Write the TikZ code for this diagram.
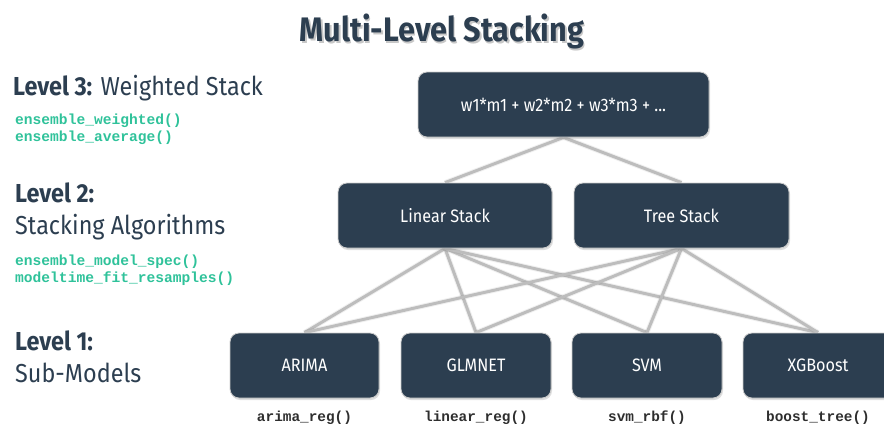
\documentclass[tikz,border=0pt]{standalone}
\usepackage{fontspec}
\setmainfont{Fira Sans}[FakeStretch=0.9]
\newfontfamily\codefont{Liberation Mono}
\usetikzlibrary{shadows,backgrounds}
\definecolor{navy}{HTML}{2C3E50}
\definecolor{codegreen}{HTML}{2FC29A}
\definecolor{linkgrey}{HTML}{BDBDBD}
\definecolor{codegrey}{HTML}{2E2E2E}
\tikzset{
  box/.style={draw=black!20, line width=0.8pt, fill=navy, rounded corners=9pt,
    text=white, font=\fontsize{18}{21}\selectfont, align=center,
    drop shadow={opacity=0.25, shadow xshift=1pt, shadow yshift=-2pt}},
  link/.style={draw=linkgrey, line width=3pt,
    preaction={draw=black, opacity=0.06, line width=5pt}},
  titlefont/.style={font=\bfseries\fontsize{34}{38}\selectfont},
  levelhead/.style={anchor=base west, text=navy, inner sep=0pt, font=\fontsize{26}{29}\selectfont},
  code/.style={anchor=base west, text=codegreen, inner sep=0pt, font=\codefont\bfseries\fontsize{14.6}{16}\selectfont},
  fnlabel/.style={anchor=base, text=codegrey, inner sep=0pt, font=\codefont\bfseries\fontsize{14.4}{16}\selectfont}
}
\begin{document}
\begin{tikzpicture}[x=1pt,y=-1pt]
\useasboundingbox (0,0) rectangle (884,426);

% title with soft shadow
\node[text=black, opacity=0.22, titlefont] at (443.5,33) {Multi-Level Stacking};
\node (title) [text=navy, titlefont] at (442,31) {Multi-Level Stacking};

% level descriptions
\node (l3) [levelhead] at (13,95) {\textbf{Level 3:} Weighted Stack};
\node (l3a) [code] at (15,124) {ensemble\_weighted()};
\node (l3b) [code] at (15,141) {ensemble\_average()};

\node (l2) [levelhead] at (15,202) {\textbf{Level 2:}};
\node (l2t) [levelhead] at (15,234) {Stacking Algorithms};
\node (l2a) [code] at (15,265) {ensemble\_model\_spec()};
\node (l2b) [code] at (15,282) {modeltime\_fit\_resamples()};

\node (l1) [levelhead] at (15,350) {\textbf{Level 1:}};
\node (l1t) [levelhead] at (15,382) {Sub-Models};

% boxes
\node (top) [box, minimum width=291pt, minimum height=65pt] at (563.5,104.5) {w1*m1 + w2*m2 + w3*m3 + ...};
\node (lin) [box, minimum width=214pt, minimum height=65pt] at (445,215.5) {Linear Stack};
\node (tree) [box, minimum width=215pt, minimum height=65pt] at (681.5,215.5) {Tree Stack};

\node (arima) [box, minimum width=149pt, minimum height=65pt] at (304.5,365.5) {ARIMA};
\node (glm) [box, minimum width=150pt, minimum height=65pt] at (476,365.5) {GLMNET};
\node (svm) [box, minimum width=150pt, minimum height=65pt] at (647,365.5) {SVM};
\node (xgb) [box, minimum width=150pt, minimum height=65pt] at (818,365.5) {XGBoost};

% function names under the sub-models
\node (fa) [fnlabel] at (304.5,421) {arima\_reg()};
\node (fg) [fnlabel] at (476,421) {linear\_reg()};
\node (fs) [fnlabel] at (647,421) {svm\_rbf()};
\node (fx) [fnlabel] at (818,421) {boost\_tree()};

% links, kept behind the boxes
\begin{scope}[on background layer]
\foreach \a/\b in {top/lin, top/tree} {
  \draw[link] (\a.south) -- (\b.north);
}
\foreach \a in {lin, tree} {
  \foreach \b in {arima, glm, svm, xgb} {
    \draw[link] (\a.south) -- (\b.north);
  }
}
\end{scope}
\end{tikzpicture}
\end{document}
